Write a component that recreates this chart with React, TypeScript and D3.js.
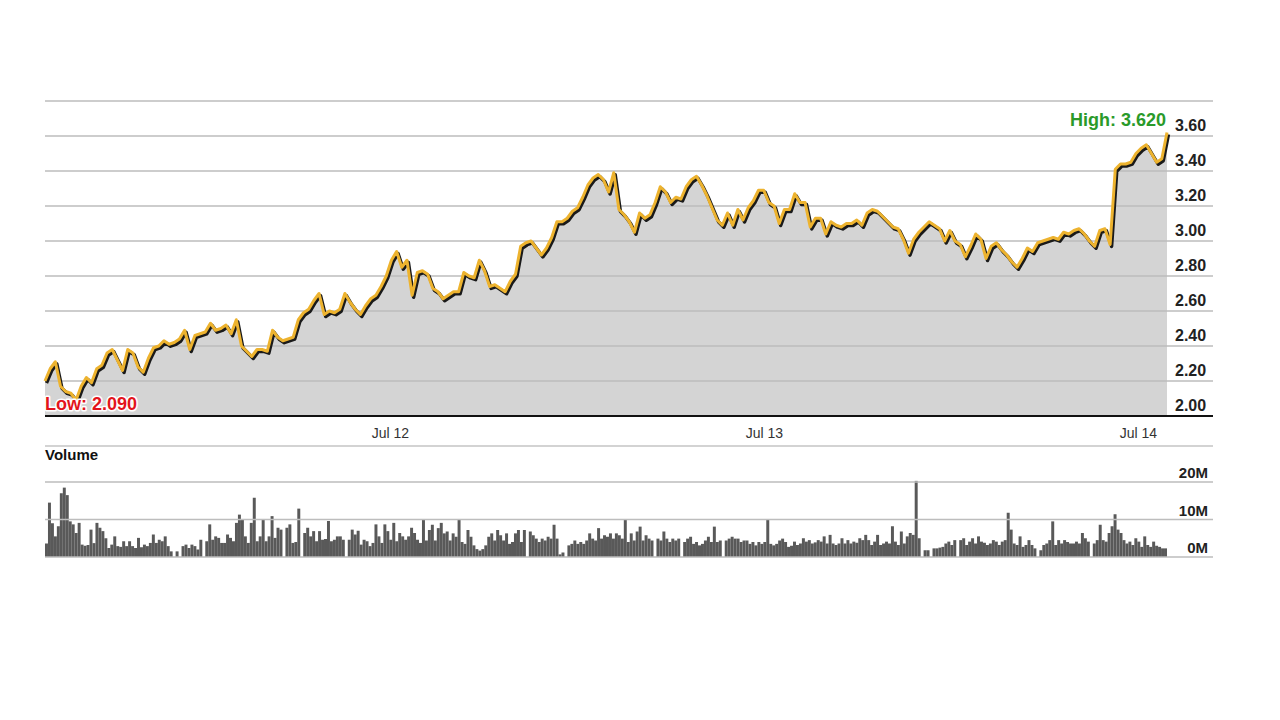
import React from "react";
import * as d3 from "d3";

// Price samples (20-minute steps across three trading days)
const priceValues: number[] = [
  2.20, 2.27, 2.31, 2.17, 2.14, 2.13, 2.09, 2.17, 2.22, 2.19,
  2.27, 2.29, 2.36, 2.38, 2.32, 2.26, 2.38, 2.36, 2.28, 2.25,
  2.33, 2.39, 2.40, 2.43, 2.41, 2.42, 2.44, 2.49, 2.38, 2.46,
  2.47, 2.48, 2.53, 2.49, 2.50, 2.52, 2.47, 2.55, 2.40, 2.37,
  2.34, 2.38, 2.38, 2.37, 2.49, 2.45, 2.43, 2.44, 2.45, 2.55,
  2.59, 2.61, 2.66, 2.70, 2.58, 2.60, 2.59, 2.61, 2.70, 2.65,
  2.61, 2.58, 2.63, 2.67, 2.69, 2.74, 2.80, 2.89, 2.94, 2.85,
  2.89, 2.69, 2.82, 2.83, 2.81, 2.73, 2.71, 2.67, 2.69, 2.71,
  2.71, 2.82, 2.80, 2.79, 2.89, 2.83, 2.74, 2.75, 2.73, 2.71,
  2.77, 2.81, 2.97, 2.99, 3.00, 2.96, 2.92, 2.96, 3.02, 3.11,
  3.11, 3.13, 3.17, 3.19, 3.25, 3.32, 3.36, 3.38, 3.35, 3.28,
  3.39, 3.18, 3.15, 3.11, 3.05, 3.16, 3.13, 3.15, 3.22, 3.31,
  3.28, 3.22, 3.25, 3.24, 3.31, 3.35, 3.37, 3.32, 3.26, 3.19,
  3.12, 3.09, 3.16, 3.09, 3.18, 3.12, 3.19, 3.23, 3.29, 3.29,
  3.22, 3.20, 3.10, 3.18, 3.18, 3.27, 3.22, 3.22, 3.08, 3.13,
  3.13, 3.04, 3.11, 3.09, 3.08, 3.10, 3.10, 3.12, 3.09, 3.16,
  3.18, 3.17, 3.14, 3.11, 3.08, 3.07, 3.01, 2.93, 3.01, 3.05,
  3.08, 3.11, 3.09, 3.07, 3.00, 3.06, 3.00, 2.98, 2.91, 2.97,
  3.04, 3.01, 2.90, 2.97, 2.99, 2.95, 2.92, 2.88, 2.85, 2.90,
  2.96, 2.94, 2.99, 3.00, 3.01, 3.02, 3.01, 3.05, 3.04, 3.06,
  3.07, 3.04, 3.00, 2.97, 3.06, 3.07, 2.98, 3.41, 3.44, 3.44,
  3.45, 3.50, 3.53, 3.55, 3.50, 3.45, 3.47, 3.62,
];

// Traded volume per bar, in millions of shares
const volumeValues: number[] = [
  3.6, 14.5, 9.0, 5.5, 8.2, 17.0, 18.5, 16.5, 9.5, 8.7, 6.4, 9.1, 3.3,
  3.0, 3.2, 7.3, 3.7, 9.1, 7.8, 6.9, 5.0, 2.4, 3.3, 5.5, 2.9, 2.7, 4.2,
  2.9, 4.2, 2.9, 2.4, 5.1, 2.6, 3.3, 2.9, 3.75, 6.0, 3.75, 4.6, 4.2, 5.5,
  2.9, 1.5, 0, 1.5, 0, 2.9, 3.3, 2.4, 3.3, 2.9, 2.0, 4.6, 0, 4.2, 8.7, 4.6,
  5.5, 5.1, 3.75, 3.75, 6.0, 5.1, 4.2, 9.1, 11.3, 10.0, 5.5, 3.75, 9.1, 15.8, 4.2, 5.5,
  10.0, 4.2, 5.5, 10.9, 5.1, 7.8, 7.3, 0, 7.8, 8.7, 3.75, 4.0, 12.9, 0,
  6.4, 7.8, 5.5, 6.9, 4.2, 6.9, 4.6, 4.8, 9.6, 4.2, 4.6, 5.5, 5.5, 4.6, 0, 4.6,
  7.3, 6.0, 7.0, 3.3, 4.6, 4.2, 2.9, 3.75, 8.7, 5.5, 3.75, 8.7, 6.9, 4.6, 9.1, 4.2,
  6.4, 5.5, 4.6, 5.5, 7.8, 6.4, 4.6, 3.75,
  10.0, 4.4, 7.2, 8.6, 4.4, 7.7, 9.1, 6.3, 6.8, 4.4, 6.3, 5.4, 10.0, 4.0, 3.5, 7.2,
  5.4, 3.1, 2.1, 1.7, 2.1, 3.1, 5.4, 6.3, 4.4, 7.2, 5.8, 4.4, 6.3, 3.5, 4.0, 6.3,
  7.2, 4.0, 7.2, 0, 6.8, 5.8, 4.9, 4.0, 4.9, 4.4, 5.4, 4.9, 8.6, 4.9, 0.7, 1.2,
  0, 3.1, 3.5, 4.4, 3.5, 4.0, 3.5, 4.4, 6.3, 4.9, 4.4, 7.7, 4.9, 5.8, 5.4, 6.3,
  4.9, 6.3, 5.8, 4.9, 10.0, 4.0, 6.3, 4.4, 6.8, 8.1, 4.4, 5.8, 4.9, 4.4, 0, 4.9,
  4.4, 6.8, 4.9, 4.0, 4.9, 4.4, 4.9, 0, 4.0, 4.9, 5.4, 3.5, 4.0, 3.1, 3.5, 4.4,
  5.4, 4.0, 8.1, 4.0, 4.4, 0, 4.4, 4.9, 5.4, 4.9, 4.9, 4.0, 4.4, 4.4, 3.5, 4.0,
  3.1, 4.0, 3.5, 4.0, 10.0, 3.5, 3.1, 3.5, 4.4, 4.9, 4.0,
  2.7, 3.0, 4.1, 3.2, 3.6, 5.0, 4.1, 4.5, 3.6, 3.9, 4.5, 4.1, 5.5, 3.6, 5.9, 3.6, 3.2, 3.6,
  5.0, 3.6, 4.5, 3.6, 4.1, 3.8, 5.0, 4.5, 5.9, 4.5, 3.2, 4.1, 5.9, 3.2, 3.6, 4.1, 3.6, 8.2,
  4.1, 3.2, 6.8, 3.6, 5.5, 6.4, 5.9, 20.3, 5.0, 0, 1.8, 1.8, 0, 2.3, 2.3, 2.5,
  2.7, 3.6, 4.1, 3.2, 4.5, 0, 4.5, 5.0, 3.2, 4.1, 5.0, 3.6, 5.5, 4.1, 3.8, 3.2, 3.6,
  4.5, 4.1, 3.2, 4.1, 4.5, 11.8, 7.3, 3.6, 3.2, 5.5, 2.7, 3.2, 4.5, 3.2, 2.3, 0,
  1.8, 3.2, 3.6, 4.5, 9.5, 3.2, 4.5, 3.6, 4.5, 4.0, 3.6, 3.6, 4.1, 3.6, 6.4, 5.0, 4.1,
  0, 3.6, 4.5, 8.6, 4.5, 4.1, 6.4, 8.2, 11.4, 7.3, 6.4, 4.5, 3.6, 4.1, 3.2, 5.0,
  4.1, 2.7, 5.5, 3.2, 2.7, 4.1, 3.0, 2.7, 2.3, 2.3,
];

const priceTicks: number[] = [2.0, 2.2, 2.4, 2.6, 2.8, 3.0, 3.2, 3.4, 3.6];
const priceGridTop = 3.8;
const volumeTicks: number[] = [0, 10, 20];
const volumeTickLabels: string[] = ["0M", "10M", "20M"];

const startTime = new Date(2019, 6, 11, 1, 50);
const endTime = new Date(2019, 6, 14, 1, 50);

const FONT = "'Liberation Sans', Arial, Helvetica, sans-serif";

export default function App() {
  const left = 45;
  const right = 1167;
  const gridRight = 1213;
  const priceTop = 101;
  const priceBottom = 416;
  const volTop = 482;
  const volBottom = 557;

  const x = d3.scaleTime().domain([startTime, endTime]).range([left, right]);
  const y = d3.scaleLinear().domain([2.0, priceGridTop]).range([priceBottom, priceTop]);
  const yv = d3.scaleLinear().domain([0, 20]).range([volBottom, volTop]);

  const span = endTime.getTime() - startTime.getTime();
  const pricePoints = priceValues.map((v, i) => ({
    t: new Date(startTime.getTime() + (i * span) / (priceValues.length - 1)),
    v,
  }));

  const line = d3
    .line<{ t: Date; v: number }>()
    .x((d) => x(d.t))
    .y((d) => y(d.v));
  const area = d3
    .area<{ t: Date; v: number }>()
    .x((d) => x(d.t))
    .y0(priceBottom)
    .y1((d) => y(d.v));

  const barStep = span / volumeValues.length;
  const bars = volumeValues.map((v, i) => {
    const t0 = new Date(startTime.getTime() + i * barStep);
    const t1 = new Date(startTime.getTime() + (i + 1) * barStep);
    return { x0: x(t0), x1: x(t1), v };
  });

  const dayTicks = d3.timeDay.range(d3.timeDay.ceil(startTime), endTime);
  const fmtDay = d3.timeFormat("%b %d");
  const fmtPrice = d3.format(".2f");
  const fmtExt = d3.format(".3f");

  const hi = d3.max(priceValues) as number;
  const lo = d3.min(priceValues) as number;
  const gridLines = [...priceTicks, priceGridTop];

  return (
    <svg
      width={1280}
      height={720}
      style={{ position: "absolute", left: 0, top: 0, background: "#fff" }}
      fontFamily={FONT}
    >
      {/* price area */}
      <path d={area(pricePoints) ?? ""} fill="#d4d4d4" />

      {/* price grid */}
      {gridLines.map((g) => (
        <line
          key={g}
          x1={left}
          x2={gridRight}
          y1={y(g)}
          y2={y(g)}
          stroke="#bdbdbd"
          strokeWidth={1.5}
        />
      ))}
      <line x1={left} x2={gridRight} y1={priceBottom} y2={priceBottom} stroke="#111" strokeWidth={2} />

      {/* price line with drop shadow */}
      <path
        d={line(pricePoints) ?? ""}
        fill="none"
        stroke="#1a1a1a"
        strokeWidth={3.4}
        strokeLinejoin="round"
        transform="translate(1.5,2)"
      />
      <path
        d={line(pricePoints) ?? ""}
        fill="none"
        stroke="#edb32f"
        strokeWidth={3}
        strokeLinejoin="round"
      />

      {/* price axis labels */}
      {priceTicks.map((g) => (
        <text
          key={g}
          x={1175}
          y={y(g) - 5}
          fontSize={16}
          fontWeight="bold"
          fill="#222"
        >
          {fmtPrice(g)}
        </text>
      ))}

      {/* high / low annotations */}
      <text
        x={1166}
        y={126}
        textAnchor="end"
        fontSize={18}
        fontWeight="bold"
        fill="#2a9a2a"
      >
        {`High: ${fmtExt(hi)}`}
      </text>
      <text
        x={45}
        y={410}
        fontSize={18}
        fontWeight="bold"
        fill="#e3141c"
        stroke="#fff"
        strokeWidth={3}
        paintOrder="stroke"
        strokeLinejoin="round"
      >
        {`Low: ${fmtExt(lo)}`}
      </text>

      {/* date axis */}
      {dayTicks.map((d) => (
        <text
          key={d.getTime()}
          x={x(d)}
          y={438}
          textAnchor="middle"
          fontSize={14}
          fill="#333"
        >
          {fmtDay(d)}
        </text>
      ))}
      <line x1={left} x2={gridRight} y1={446} y2={446} stroke="#c4c4c4" strokeWidth={1.5} />

      {/* volume panel */}
      <text x={45} y={460} fontSize={15} fontWeight="bold" fill="#111">
        Volume
      </text>
      {bars.map((b, i) =>
        b.v > 0 ? (
          <rect
            key={i}
            x={b.x0}
            width={b.x1 - b.x0}
            y={yv(b.v)}
            height={volBottom - yv(b.v)}
            fill="#595959"
          />
        ) : null
      )}
      {volumeTicks.map((g, i) => (
        <g key={g}>
          <line
            x1={left}
            x2={gridRight}
            y1={yv(g)}
            y2={yv(g)}
            stroke="#bdbdbd"
            strokeWidth={1.5}
          />
          <text
            x={1208}
            y={yv(g) - 4}
            textAnchor="end"
            fontSize={15}
            fontWeight="bold"
            fill="#222"
          >
            {volumeTickLabels[i]}
          </text>
        </g>
      ))}
    </svg>
  );
}
